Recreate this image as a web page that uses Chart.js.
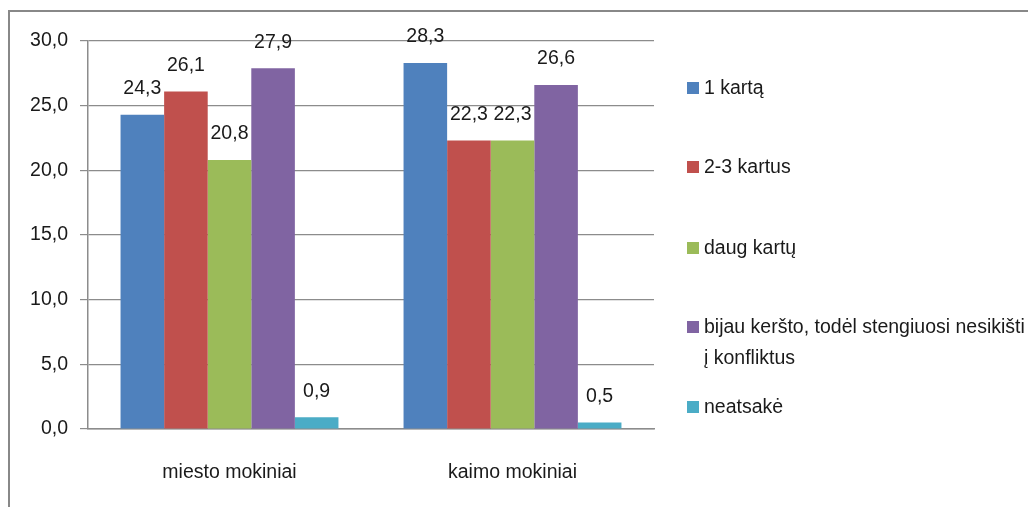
<!DOCTYPE html>
<html>
<head>
<meta charset="utf-8">
<script src="https://cdn.jsdelivr.net/npm/chart.js@4.4.1/dist/chart.umd.min.js"></script>
<style>
  html, body { margin: 0; padding: 0; background: #fff; }
  #wrap { position: relative; width: 1028px; height: 507px; overflow: hidden; }
  #legend { position: absolute; left: 0; top: 0; font-family: "Liberation Sans", Arial, sans-serif; font-size: 19.5px; color: #1a1a1a; }
  .item { position: absolute; left: 687px; white-space: nowrap; line-height: 31px; }
  .box { position: absolute; left: 0; top: 10px; width: 12px; height: 12px; }
  .txt { position: absolute; left: 17px; top: 0; }
</style>
</head>
<body>
<div id="wrap">
  <canvas id="chart" width="1028" height="507"></canvas>
  <div id="legend"></div>
</div>
<script>
  // categories and series
  const categories = ["miesto mokiniai", "kaimo mokiniai"];
  const seriesNames = [
    ["1 kartą"],
    ["2-3 kartus"],
    ["daug kartų"],
    ["bijau keršto, todėl stengiuosi nesikišti", "į konfliktus"],
    ["neatsakė"],
  ];
  const kartą1 = [24.3, 28.3];
  const kartus23 = [26.1, 22.3];
  const daugKartu = [20.8, 22.3];
  const bijauKersto = [27.9, 26.6];
  const neatsake = [0.9, 0.5];
  const colors = ["#4F81BD", "#C0504D", "#9BBB59", "#8064A2", "#4BACC6"];
  const yTicks = [0, 5, 10, 15, 20, 25, 30];
  // legend row tops (px), one per series
  const legendTops = [72, 151, 232, 311, 391];

  const values = [kartą1, kartus23, daugKartu, bijauKersto, neatsake];
  const FONT = "Liberation Sans";
  const fmt = (v) => v.toFixed(1).replace(".", ",");

  // frame lines on the left and top, like the original embedded chart
  const framePlugin = {
    id: "frame",
    beforeDraw(chart) {
      const ctx = chart.ctx;
      ctx.save();
      ctx.fillStyle = "#fff";
      ctx.fillRect(0, 0, chart.width, chart.height);
      ctx.strokeStyle = "#888888";
      ctx.lineWidth = 2;
      ctx.beginPath();
      ctx.moveTo(9, chart.height);
      ctx.lineTo(9, 11);
      ctx.lineTo(chart.width, 11);
      ctx.stroke();
      ctx.restore();
    },
  };

  // value labels above each bar
  const valueLabels = {
    id: "valueLabels",
    afterDatasetsDraw(chart) {
      const ctx = chart.ctx;
      ctx.save();
      ctx.font = `19.5px "${FONT}"`;
      ctx.fillStyle = "#1a1a1a";
      ctx.textAlign = "center";
      ctx.textBaseline = "middle";
      chart.data.datasets.forEach((ds, i) => {
        chart.getDatasetMeta(i).data.forEach((bar, j) => {
          ctx.fillText(fmt(ds.data[j]), bar.x, bar.y - 26);
        });
      });
      ctx.restore();
    },
  };

  new Chart(document.getElementById("chart"), {
    type: "bar",
    data: {
      labels: categories,
      datasets: values.map((d, i) => ({
        label: seriesNames[i].join(" "),
        data: d,
        backgroundColor: colors[i],
        borderWidth: 0,
        categoryPercentage: 0.77,
        barPercentage: 1,
      })),
    },
    options: {
      responsive: false,
      animation: false,
      layout: { padding: { left: 0, top: 41, right: 374, bottom: 0 } },
      plugins: {
        legend: { display: false },
        tooltip: { enabled: false },
      },
      scales: {
        x: {
          grid: { display: false, drawTicks: false },
          border: { color: "#8c8c8c", width: 1.5 },
          ticks: {
            padding: 32,
            color: "#1a1a1a",
            font: { family: FONT, size: 19.5 },
          },
          afterFit: (s) => { s.height = 78; },
        },
        y: {
          min: 0,
          max: 30,
          afterBuildTicks: (s) => { s.ticks = yTicks.map((v) => ({ value: v })); },
          grid: { color: "#8c8c8c", lineWidth: 1.2, tickLength: 8 },
          border: { color: "#8c8c8c", width: 1.5 },
          ticks: {
            padding: 12,
            color: "#1a1a1a",
            font: { family: FONT, size: 19.5 },
            callback: (v) => fmt(v),
          },
          afterFit: (s) => { s.width = 88; },
        },
      },
    },
    plugins: [framePlugin, valueLabels],
  });

  // legend on the right
  const legend = document.getElementById("legend");
  seriesNames.forEach((lines, i) => {
    const item = document.createElement("div");
    item.className = "item";
    item.style.top = legendTops[i] + "px";
    const box = document.createElement("div");
    box.className = "box";
    box.style.background = colors[i];
    const txt = document.createElement("div");
    txt.className = "txt";
    txt.innerHTML = lines.map((l) => `<div>${l}</div>`).join("");
    item.appendChild(box);
    item.appendChild(txt);
    legend.appendChild(item);
  });
</script>
</body>
</html>
